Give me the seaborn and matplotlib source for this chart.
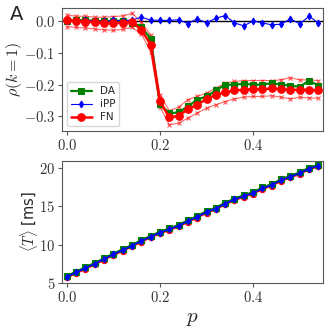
import numpy as np
import pandas as pd
import seaborn as sns
import matplotlib
matplotlib.use("Agg")
import matplotlib.pyplot as plt

# ---------------- data ----------------
p = [0.00, 0.02, 0.04, 0.06, 0.08, 0.10, 0.12, 0.14, 0.16, 0.18,
     0.20, 0.22, 0.24, 0.26, 0.28, 0.30, 0.32, 0.34, 0.36, 0.38,
     0.40, 0.42, 0.44, 0.46, 0.48, 0.50, 0.52, 0.54]

rho_DA = [0.000, 0.003, 0.002, 0.001, -0.001, 0.000, 0.001, -0.005, -0.018, -0.055,
          -0.262, -0.290, -0.287, -0.268, -0.247, -0.237, -0.218, -0.200, -0.200, -0.197,
          -0.200, -0.200, -0.195, -0.200, -0.203, -0.207, -0.187, -0.203]

rho_iPP = [0.001, -0.002, 0.002, 0.000, -0.001, 0.002, 0.001, 0.003, 0.012, 0.003,
           0.002, 0.002, 0.004, -0.008, 0.007, -0.006, 0.009, 0.017, -0.006, -0.015,
           0.000, -0.006, -0.012, -0.010, 0.007, -0.009, 0.015, -0.006]

rho_FN = [0.002, 0.000, -0.002, -0.004, -0.006, -0.007, -0.005, -0.003, -0.027, -0.074,
          -0.252, -0.303, -0.298, -0.277, -0.263, -0.245, -0.232, -0.224, -0.218, -0.216,
          -0.214, -0.214, -0.212, -0.214, -0.216, -0.216, -0.216, -0.218]

rho_FN_hi = [0.019, 0.015, 0.015, 0.012, 0.012, 0.014, 0.016, 0.024, -0.002, -0.044,
             -0.232, -0.282, -0.271, -0.247, -0.237, -0.226, -0.211, -0.195, -0.190, -0.187,
             -0.187, -0.187, -0.187, -0.185, -0.178, -0.185, -0.185, -0.187]

rho_FN_lo = [-0.018, -0.020, -0.022, -0.025, -0.028, -0.029, -0.026, -0.020, -0.040, -0.096,
             -0.270, -0.326, -0.321, -0.305, -0.289, -0.274, -0.263, -0.253, -0.245, -0.239,
             -0.237, -0.237, -0.235, -0.239, -0.245, -0.239, -0.242, -0.242]

T_DA = [5.90, 6.47, 7.04, 7.60, 8.21, 8.82, 9.39, 9.95, 10.57, 11.13,
        11.66, 12.10, 12.57, 13.17, 13.72, 14.37, 14.82, 15.47, 16.00, 16.45,
        16.84, 17.45, 17.90, 18.52, 18.98, 19.42, 20.04, 20.40]

T_iPP = [5.79, 6.36, 6.93, 7.49, 8.10, 8.71, 9.28, 9.84, 10.46, 11.02,
         11.55, 11.98, 12.45, 13.05, 13.60, 14.25, 14.70, 15.35, 15.88, 16.33,
         16.72, 17.33, 17.78, 18.40, 18.86, 19.30, 19.92, 20.28]

T_FN = [5.70, 6.27, 6.84, 7.40, 8.01, 8.62, 9.19, 9.75, 10.37, 10.93,
        11.46, 11.89, 12.36, 12.96, 13.51, 14.16, 14.61, 15.26, 15.79, 16.24,
        16.63, 17.24, 17.69, 18.31, 18.77, 19.21, 19.83, 20.19]

xticks = [0.0, 0.2, 0.4]
xticklabels = ["$0.0$", "$0.2$", "$0.4$"]
top_yticks = [-0.3, -0.2, -0.1, 0.0]
top_yticklabels = ["$-0.3$", "$-0.2$", "$-0.1$", "$0.0$"]
bot_yticks = [5, 10, 15, 20]
bot_yticklabels = ["$5$", "$10$", "$15$", "$20$"]

# ---------------- style ----------------
sns.set_style("ticks")
plt.rcParams["font.family"] = ["DejaVu Sans"]
plt.rcParams["mathtext.fontset"] = "cm"
plt.rcParams["axes.edgecolor"] = "0.35"
plt.rcParams["xtick.color"] = "0.35"
plt.rcParams["ytick.color"] = "0.35"
plt.rcParams["xtick.labelcolor"] = "0.2"
plt.rcParams["ytick.labelcolor"] = "0.2"

fig = plt.figure(figsize=(3.32, 3.32), dpi=100)
ax1 = fig.add_axes([0.187, 0.605, 0.786, 0.371])
ax2 = fig.add_axes([0.187, 0.148, 0.786, 0.367])

df = pd.DataFrame({"p": p, "DA": rho_DA, "iPP": rho_iPP, "FN": rho_FN,
                   "hi": rho_FN_hi, "lo": rho_FN_lo,
                   "TDA": T_DA, "TiPP": T_iPP, "TFN": T_FN})

# ---- top panel ----
ax1.axhline(0, color="black", lw=1.0, zorder=1)
for col in ["hi", "lo"]:
    sns.lineplot(data=df, x="p", y=col, ax=ax1, color="red", lw=0.8, alpha=0.6,
                 marker="x", markersize=3.5, markeredgewidth=0.9,
                 markeredgecolor="red", zorder=2)
sns.lineplot(data=df, x="p", y="DA", ax=ax1, color="green", lw=1.6,
             marker="s", markersize=4.5, markeredgecolor="green", label="DA", zorder=3)
sns.lineplot(data=df, x="p", y="iPP", ax=ax1, color="blue", lw=0.8,
             marker="d", markersize=3.5, markeredgecolor="blue", label="iPP", zorder=3)
sns.lineplot(data=df, x="p", y="FN", ax=ax1, color="red", lw=1.8,
             marker="o", markersize=5.5, markeredgecolor="red", label="FN", zorder=4)

ax1.set_xlim(-0.01, 0.55)
ax1.set_ylim(-0.346, 0.041)
ax1.set_xticks(xticks)
ax1.set_xticklabels(xticklabels, fontsize=10.5)
ax1.set_yticks(top_yticks)
ax1.set_yticklabels(top_yticklabels, fontsize=10.5)
ax1.set_xlabel("")
ax1.set_ylabel(r"$\rho(k=1)$", fontsize=11.5)
ax1.yaxis.set_label_coords(-0.145, 0.5)
ax1.tick_params(length=3, width=0.8, pad=2)
leg = ax1.legend(loc="lower left", fontsize=7.5, frameon=True, fancybox=True,
                 handlelength=2.0, borderpad=0.35, labelspacing=0.3,
                 handleheight=0.6)
leg.get_frame().set_edgecolor("0.8")

# ---- bottom panel ----
sns.lineplot(data=df, x="p", y="TFN", ax=ax2, color="red", lw=1.5,
             marker="o", markersize=4.5, markeredgecolor="red", zorder=2)
sns.lineplot(data=df, x="p", y="TDA", ax=ax2, color="green", lw=1.5,
             marker="s", markersize=4.5, markeredgecolor="green", zorder=3)
sns.lineplot(data=df, x="p", y="TiPP", ax=ax2, color="blue", lw=1.2,
             marker="d", markersize=3.5, markeredgecolor="blue", zorder=4)

ax2.set_xlim(-0.01, 0.55)
ax2.set_ylim(5, 20.9)
ax2.set_xticks(xticks)
ax2.set_xticklabels(xticklabels, fontsize=10.5)
ax2.set_yticks(bot_yticks)
ax2.set_yticklabels(bot_yticklabels, fontsize=10.5)
ax2.set_xlabel(r"$p$", fontsize=15, labelpad=2)
ax2.set_ylabel(r"$\langle T\rangle$ [ms]", fontsize=10.5)
ax2.yaxis.set_label_coords(-0.085, 0.5)
ax2.tick_params(length=3, width=0.8, pad=2)

fig.text(0.03, 0.985, "A", fontsize=14, ha="left", va="top")

fig.savefig("out.png", dpi=100)
